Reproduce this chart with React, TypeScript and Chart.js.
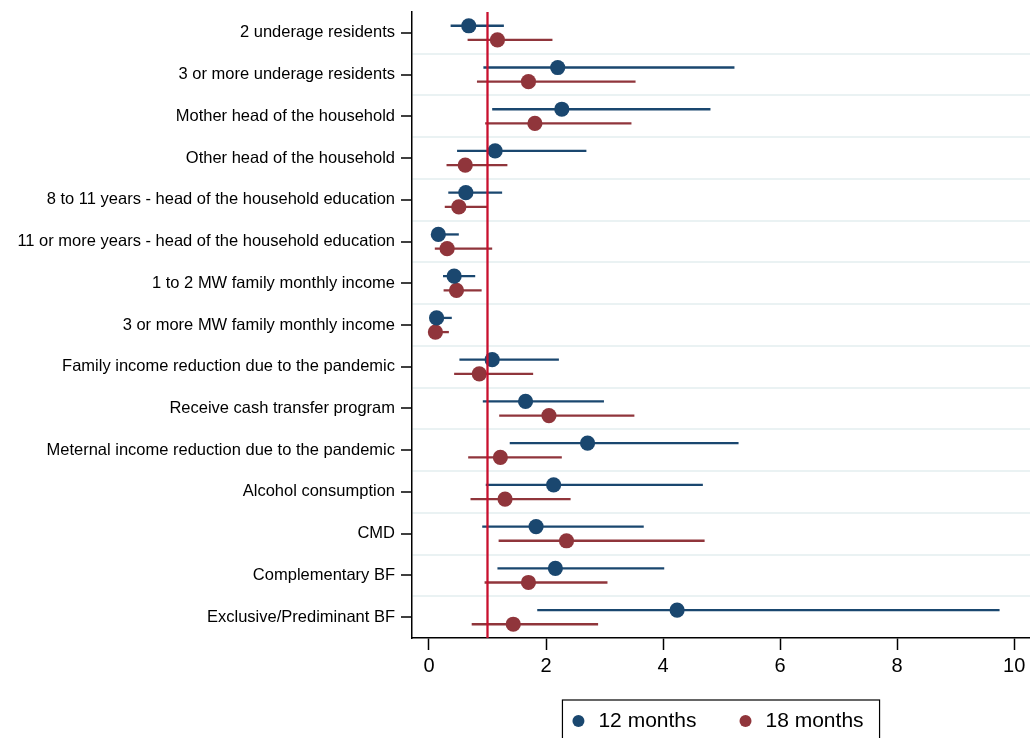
import React, { useEffect, useRef } from 'react';
import { Chart, registerables } from 'chart.js';

Chart.register(...registerables);

// ---------- data ----------
const categories = [
  '2 underage residents',
  '3 or more underage residents',
  'Mother head of the household',
  'Other head of the household',
  '8 to 11 years - head of the household education',
  '11 or more years - head of the household education',
  '1 to 2 MW family monthly income',
  '3 or more MW family monthly income',
  'Family income reduction due to the pandemic',
  'Receive cash transfer program',
  'Meternal income reduction due to the pandemic',
  'Alcohol consumption',
  'CMD',
  'Complementary BF',
  'Exclusive/Prediminant BF',
];

const seriesLabels = ['12 months', '18 months'];

const est12 = [0.68, 2.2, 2.27, 1.13, 0.63, 0.16, 0.43, 0.13, 1.08, 1.65, 2.71, 2.13, 1.83, 2.16, 4.24];
const lo12 = [0.37, 0.93, 1.08, 0.48, 0.33, 0.05, 0.24, 0.05, 0.52, 0.92, 1.38, 0.97, 0.91, 1.17, 1.85];
const hi12 = [1.28, 5.22, 4.81, 2.69, 1.25, 0.51, 0.79, 0.39, 2.22, 2.99, 5.29, 4.68, 3.67, 4.02, 9.75];

const est18 = [1.17, 1.7, 1.81, 0.62, 0.51, 0.31, 0.47, 0.11, 0.86, 2.05, 1.22, 1.3, 2.35, 1.7, 1.44];
const lo18 = [0.66, 0.82, 0.96, 0.3, 0.27, 0.1, 0.25, 0.04, 0.43, 1.2, 0.67, 0.71, 1.19, 0.95, 0.73];
const hi18 = [2.11, 3.53, 3.46, 1.34, 1.0, 1.08, 0.9, 0.34, 1.78, 3.51, 2.27, 2.42, 4.71, 3.05, 2.89];

const xTickValues = [0, 2, 4, 6, 8, 10];
const refValue = 1;

// ---------- styles ----------
const BLUE = '#1a476f';
const RED = '#90353b';
const REF = '#c8102e';
const GRID = '#eaf2f3';
const OFFSET = 0.17;
const FONT = "'Liberation Sans', Arial, Helvetica, sans-serif";

export default function App() {
  const canvasRef = useRef<HTMLCanvasElement>(null);

  useEffect(() => {
    const canvas = canvasRef.current;
    if (!canvas) return;

    const ciPlugin = {
      id: 'ciBars',
      beforeDatasetsDraw(chart: any) {
        const { ctx, scales } = chart;
        const x = scales.x;
        const y = scales.y;
        ctx.save();
        chart.data.datasets.forEach((ds: any) => {
          ctx.strokeStyle = ds.backgroundColor;
          ctx.lineWidth = 2.3;
          ds.data.forEach((p: any, i: number) => {
            const py = y.getPixelForValue(p.y);
            ctx.beginPath();
            ctx.moveTo(x.getPixelForValue(ds.ciLo[i]), py);
            ctx.lineTo(x.getPixelForValue(ds.ciHi[i]), py);
            ctx.stroke();
          });
        });
        ctx.restore();
      },
    };

    const refPlugin = {
      id: 'refLine',
      afterDatasetsDraw(chart: any) {
        const { ctx, chartArea, scales } = chart;
        const px = scales.x.getPixelForValue(refValue);
        ctx.save();
        ctx.strokeStyle = REF;
        ctx.lineWidth = 2.3;
        ctx.beginPath();
        ctx.moveTo(px, chartArea.top);
        ctx.lineTo(px, chartArea.bottom);
        ctx.stroke();
        ctx.restore();
      },
    };

    const legendPlugin = {
      id: 'boxLegend',
      afterDraw(chart: any) {
        const { ctx, chartArea } = chart;
        const dsets = chart.data.datasets;
        ctx.save();
        ctx.font = `21px ${FONT}`;
        const r = 6;
        const dotToText = 20;
        const itemGap = 43;
        const pad = 10;
        const widths = dsets.map((d: any) => ctx.measureText(d.label).width);
        let content = 0;
        widths.forEach((w: number, i: number) => {
          content += r + dotToText + w;
          if (i < widths.length - 1) content += itemGap;
        });
        const boxW = content + pad * 2 + r;
        const cx = (chartArea.left + chartArea.right) / 2;
        const left = cx - boxW / 2;
        const top = chartArea.bottom + 62;
        const cy = top + 21;
        ctx.strokeStyle = '#000';
        ctx.lineWidth = 1.2;
        ctx.strokeRect(left, top, boxW, 50);
        let xpos = left + pad;
        dsets.forEach((d: any, i: number) => {
          ctx.fillStyle = d.backgroundColor;
          ctx.beginPath();
          ctx.arc(xpos + r, cy, r, 0, Math.PI * 2);
          ctx.fill();
          ctx.fillStyle = '#000';
          ctx.textBaseline = 'middle';
          ctx.textAlign = 'left';
          ctx.fillText(d.label, xpos + r + dotToText, cy);
          xpos += r + dotToText + widths[i] + itemGap;
        });
        ctx.restore();
      },
    };

    const mk = (vals: number[], off: number) => vals.map((v, i) => ({ x: v, y: i + off }));

    const chart = new Chart(canvas, {
      type: 'scatter',
      data: {
        datasets: [
          {
            label: seriesLabels[0],
            data: mk(est12, -OFFSET),
            backgroundColor: BLUE,
            borderColor: BLUE,
            pointRadius: 7.6,
            pointHoverRadius: 7.6,
            pointBorderWidth: 0,
            ciLo: lo12,
            ciHi: hi12,
          } as any,
          {
            label: seriesLabels[1],
            data: mk(est18, OFFSET),
            backgroundColor: RED,
            borderColor: RED,
            pointRadius: 7.6,
            pointHoverRadius: 7.6,
            pointBorderWidth: 0,
            ciLo: lo18,
            ciHi: hi18,
          } as any,
        ],
      },
      options: {
        animation: false,
        responsive: false,
        maintainAspectRatio: false,
        layout: { autoPadding: false, padding: { top: 12, left: 0, right: 0, bottom: 0 } },
        plugins: {
          legend: { display: false },
          tooltip: { enabled: false },
        },
        scales: {
          x: {
            type: 'linear',
            min: -0.29,
            max: 10.27,
            afterBuildTicks: (scale: any) => {
              scale.ticks = xTickValues.map((v) => ({ value: v }));
            },
            afterFit: (scale: any) => {
              scale.height = 100;
              scale.paddingLeft = 0;
              scale.paddingRight = 0;
            },
            grid: {
              drawOnChartArea: false,
              drawTicks: true,
              tickLength: 12,
              tickColor: '#000',
              tickWidth: 1.5,
            },
            border: { display: true, color: '#000', width: 1.5 },
            ticks: {
              color: '#000',
              font: { size: 20, family: FONT },
              padding: 4,
              maxRotation: 0,
              autoSkip: false,
            },
          },
          y: {
            type: 'linear',
            reverse: true,
            min: -0.5,
            max: categories.length - 0.5,
            afterBuildTicks: (scale: any) => {
              const t: any[] = [];
              for (let v = 0; v <= categories.length - 1 + 1e-9; v += 0.5) t.push({ value: v });
              scale.ticks = t;
            },
            afterFit: (scale: any) => {
              scale.width = 412;
              scale.paddingTop = 0;
              scale.paddingBottom = 0;
            },
            grid: {
              drawOnChartArea: true,
              drawTicks: true,
              tickLength: 11,
              lineWidth: 2,
              tickWidth: 1.5,
              color: (c: any) => {
                const v = c.tick ? c.tick.value : 0;
                return Number.isInteger(v) ? 'rgba(0,0,0,0)' : GRID;
              },
              tickColor: (c: any) => {
                const v = c.tick ? c.tick.value : 0;
                return Number.isInteger(v) ? '#000' : 'rgba(0,0,0,0)';
              },
            },
            border: { display: true, color: '#000', width: 1.5 },
            ticks: {
              autoSkip: false,
              color: '#000',
              padding: 6,
              font: { size: 16.5, family: FONT },
              callback: (v: any) => (Number.isInteger(v) ? categories[v] : ''),
            },
          },
        },
      },
      plugins: [ciPlugin, refPlugin, legendPlugin],
    });

    return () => chart.destroy();
  }, []);

  return (
    <div style={{ position: 'absolute', left: 0, top: 0, width: 1030, height: 738, overflow: 'hidden', background: '#fff' }}>
      <canvas ref={canvasRef} width={1030} height={738} />
    </div>
  );
}
